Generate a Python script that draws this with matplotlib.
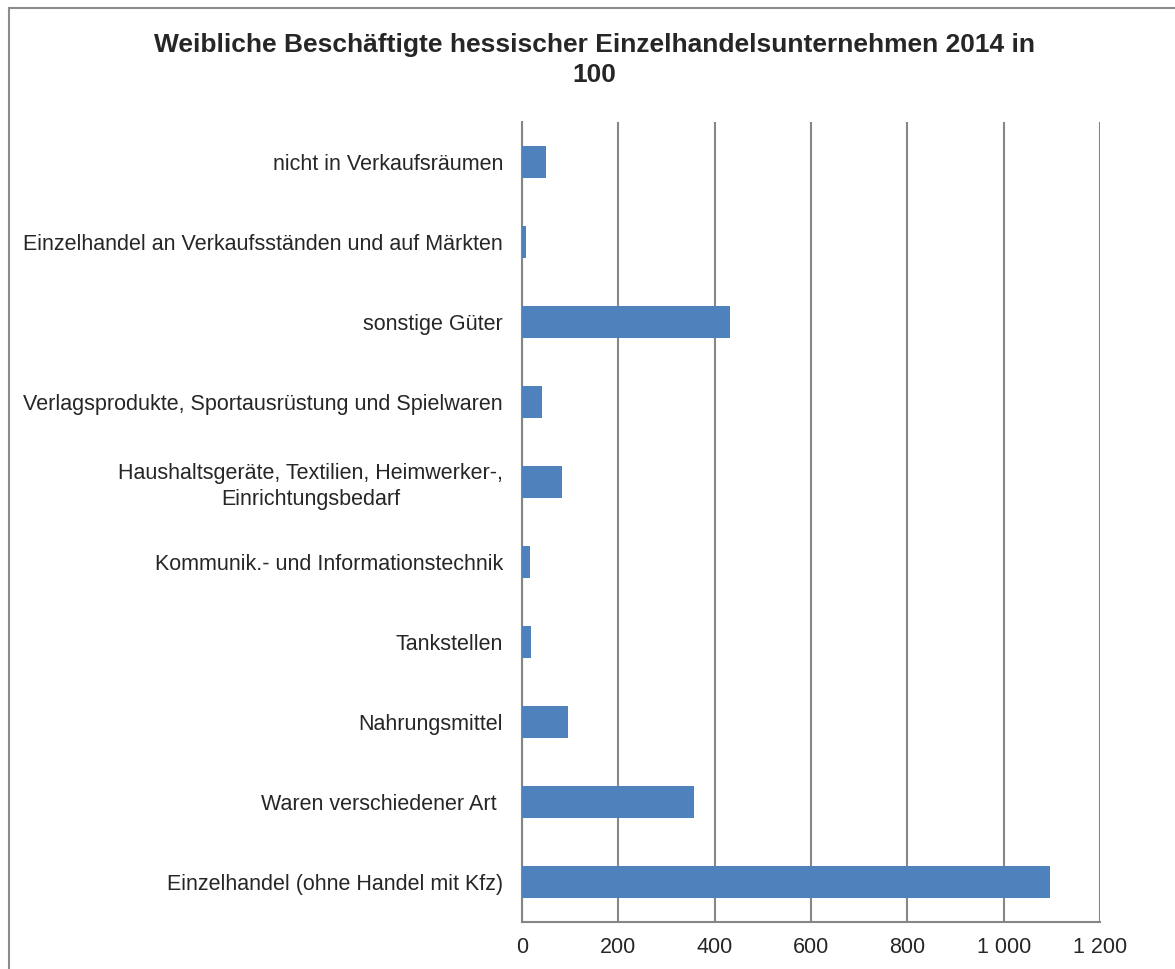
import matplotlib.pyplot as plt
from matplotlib.lines import Line2D

# Kategorien (von unten nach oben)
categories = [
    'Einzelhandel (ohne Handel mit Kfz)',
    'Waren verschiedener Art ',
    'Nahrungsmittel',
    'Tankstellen',
    'Kommunik.- und Informationstechnik',
    'Haushaltsgeräte, Textilien, Heimwerker-,\nEinrichtungsbedarf',
    'Verlagsprodukte, Sportausrüstung und Spielwaren',
    'sonstige Güter',
    'Einzelhandel an Verkaufsständen und auf Märkten',
    'nicht in Verkaufsräumen',
]
values = [1096, 358, 95, 18, 16, 84, 41, 431, 8, 49]

xticks = [0, 200, 400, 600, 800, 1000, 1200]
xtick_labels = ['0', '200', '400', '600', '800', '1 000', '1 200']

plt.rcParams['font.family'] = ['Liberation Sans', 'DejaVu Sans']
text_color = '#262626'
grid_color = '#868686'

fig = plt.figure(figsize=(11.75, 9.69), dpi=100)
ax = fig.add_axes([522 / 1175, 1 - 922 / 969, 578 / 1175, 800 / 969])

ax.barh(range(len(categories)), values, height=0.4, color='#4F81BD', zorder=3)

ax.set_xlim(0, 1200)
ax.set_ylim(-0.5, len(categories) - 0.5)
ax.set_xticks(xticks)
ax.set_xticklabels(xtick_labels)
ax.set_yticks(range(len(categories)))
ax.set_yticklabels(categories, multialignment='center', linespacing=1.25)

ax.tick_params(axis='x', length=0, pad=11, labelsize=15.5, labelcolor=text_color)
ax.tick_params(axis='y', length=0, pad=13.7, labelsize=15.5, labelcolor=text_color)

ax.grid(axis='x', color=grid_color, linewidth=1.5, zorder=0)
for side in ['top', 'right']:
    ax.spines[side].set_visible(False)
for side in ['left', 'bottom']:
    ax.spines[side].set_color(grid_color)
    ax.spines[side].set_linewidth(1.5)

fig.text(594 / 1175, 1 - 52 / 969, 'Weibliche Beschäftigte hessischer Einzelhandelsunternehmen 2014 in',
         ha='center', va='baseline', fontsize=19, fontweight='bold', color=text_color)
fig.text(594 / 1175, 1 - 82 / 969, '100',
         ha='center', va='baseline', fontsize=19, fontweight='bold', color=text_color)

# Rahmen (links und oben)
fig.add_artist(Line2D([8.5 / 1175, 8.5 / 1175], [0, 1 - 7.5 / 969], transform=fig.transFigure,
                      color='#8c8c8c', linewidth=1.5))
fig.add_artist(Line2D([8.5 / 1175, 1], [1 - 7.5 / 969, 1 - 7.5 / 969], transform=fig.transFigure,
                      color='#8c8c8c', linewidth=1.5))

plt.savefig('out.png', dpi=100)
